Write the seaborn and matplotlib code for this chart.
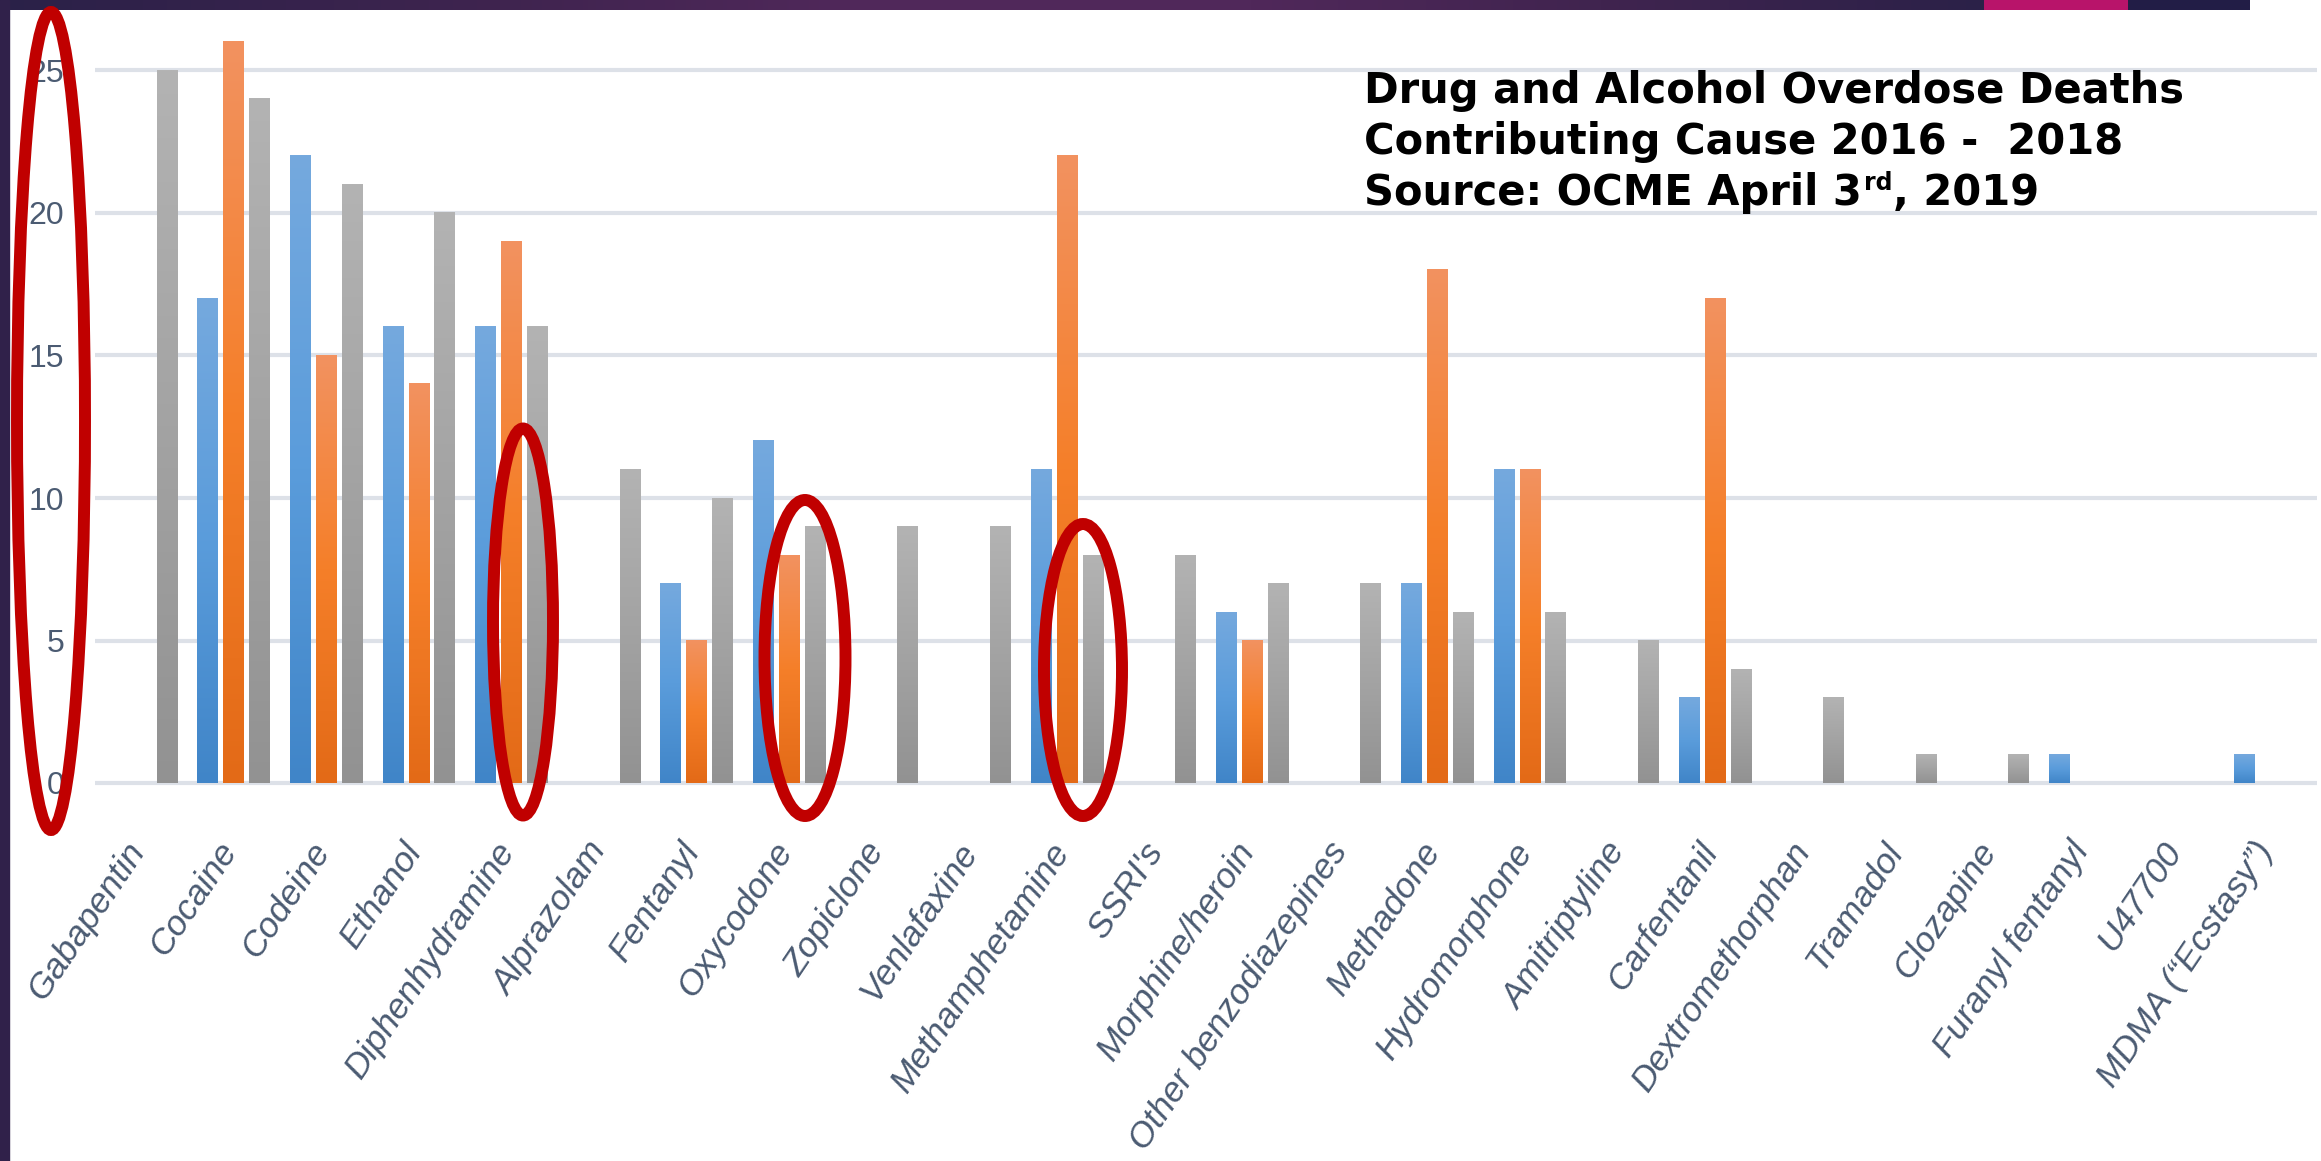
import numpy as np
import pandas as pd
import matplotlib
matplotlib.use("Agg")
import matplotlib.pyplot as plt
import matplotlib.transforms as mtransforms
from matplotlib.patches import Ellipse, Rectangle
from matplotlib.colors import LinearSegmentedColormap, to_rgb
from matplotlib import font_manager as fm
import seaborn as sns

# ---------------- data ----------------
categories = ["Gabapentin", "Cocaine", "Codeine", "Ethanol", "Diphenhydramine",
              "Alprazolam", "Fentanyl", "Oxycodone", "Zopiclone", "Venlafaxine",
              "Methamphetamine", "SSRI's", "Morphine/heroin", "Other benzodiazepines",
              "Methadone", "Hydromorphone", "Amitriptyline", "Carfentanil",
              "Dextromethorphan", "Tramadol", "Clozapine", "Furanyl fentanyl",
              "U47700", "MDMA (\u201cEcstasy\u201d)"]
deaths_2016 = [0, 17, 22, 16, 16, 0, 7, 12, 0, 0, 11, 0, 6, 0, 7, 11, 0, 3, 0, 0, 0, 1, 0, 1]
deaths_2017 = [0, 26, 15, 14, 19, 0, 5, 8, 0, 0, 22, 0, 5, 0, 18, 11, 0, 17, 0, 0, 0, 0, 0, 0]
deaths_2018 = [25, 24, 21, 20, 16, 11, 10, 9, 9, 9, 8, 8, 7, 7, 6, 6, 5, 4, 3, 1, 1, 0, 0, 0]
years = ["2016", "2017", "2018"]
y_ticks = [0, 5, 10, 15, 20, 25]
title_lines = ["Drug and Alcohol Overdose Deaths", "Contributing Cause 2016 -  2018"]
source_parts = ["Source: OCME April 3", "rd", ", 2019"]

df = pd.DataFrame({
    "drug": categories * 3,
    "year": np.repeat(years, len(categories)),
    "deaths": deaths_2016 + deaths_2017 + deaths_2018,
})

# ---------------- style ----------------
sns.set_style("white")


def has_font(name):
    try:
        fm.findfont(fm.FontProperties(family=name), fallback_to_default=False)
        return True
    except Exception:
        return False


narrow = "Liberation Sans Narrow" if has_font("Liberation Sans Narrow") else "Liberation Sans"
is_narrow = narrow == "Liberation Sans Narrow"
plt.rcParams["font.family"] = ["DejaVu Sans"]

W, H = 2321, 1161
fig = plt.figure(figsize=(W / 100, H / 100), dpi=100)
fig.patch.set_facecolor("white")
pix = mtransforms.Affine2D().scale(1 / W, -1 / H).translate(0, 1) + fig.transFigure

# axes geometry (pixels)
unit = 28.5
y0_px = 783
ymin, ymax = -0.15, 27.3
left_px, right_px = 95, 2317
bottom_px = y0_px - ymin * unit
top_px = y0_px - ymax * unit
ax = fig.add_axes([left_px / W, 1 - bottom_px / H, (right_px - left_px) / W,
                   (bottom_px - top_px) / H])

mid_cols = ["#5B9BD5", "#F27E2E", "#A5A5A5"]
grads = [
    LinearSegmentedColormap.from_list("b", ["#4085C8", "#5A9CDB", "#75A9DE"]),
    LinearSegmentedColormap.from_list("o", ["#E36A17", "#F57F29", "#F29260"]),
    LinearSegmentedColormap.from_list("g", ["#929292", "#A3A3A3", "#B3B3B3"]),
]

sns.barplot(data=df, x="drug", y="deaths", hue="year", order=categories,
            hue_order=years, palette=mid_cols, width=0.84, gap=0.19,
            saturation=1, errorbar=None, linewidth=0, legend=False, ax=ax)

# gradient fill on each bar
mid_rgb = [np.array(to_rgb(c)) for c in mid_cols]
grad_img = np.linspace(0, 1, 256).reshape(-1, 1)
for p in list(ax.patches):
    h = p.get_height()
    if not np.isfinite(h) or h <= 0:
        continue
    fc = np.array(p.get_facecolor()[:3])
    k = int(np.argmin([np.sum((fc - m) ** 2) for m in mid_rgb]))
    x0, w = p.get_x(), p.get_width()
    ax.imshow(grad_img, cmap=grads[k], extent=[x0, x0 + w, 0, h], origin="lower",
              aspect="auto", zorder=3, interpolation="bilinear")

ax.set_xlim(-0.5, len(categories) - 0.5)
ax.set_ylim(ymin, ymax)
ax.set_yticks(y_ticks)
ax.set_yticklabels([str(v) for v in y_ticks])
ax.yaxis.grid(True, color="#DDE1E8", linewidth=3)
ax.xaxis.grid(False)
ax.set_axisbelow(True)
for s in ax.spines.values():
    s.set_visible(False)
ax.set_xlabel("")
ax.set_ylabel("")

lab_col = "#4B5B72"
xfs = 30 if is_narrow else 25.5
yfs = 27 if is_narrow else 23
ax.set_xticks(range(len(categories)))
ax.set_xticklabels(categories, rotation=56, ha="right", va="center",
                   rotation_mode="anchor", fontstyle="italic", fontsize=xfs,
                   color=lab_col, family=[narrow, "DejaVu Sans"])
ax.tick_params(axis="x", length=0, pad=42)
off = mtransforms.ScaledTranslation(-4 / 100, 0, fig.dpi_scale_trans)
for lbl in ax.get_xticklabels():
    lbl.set_transform(lbl.get_transform() + off)
for lbl in ax.get_yticklabels():
    lbl.set_family([narrow, "DejaVu Sans"])
    lbl.set_fontsize(yfs)
    lbl.set_color(lab_col)
ax.tick_params(axis="y", length=0, pad=22)

# ---------------- decorations ----------------
# left strip
fig.patches.append(Rectangle((0, 0), 9, H, transform=pix, color="#30214A", zorder=10))
# top band gradient
band_ax = fig.add_axes([0, 1 - 10 / H, 1, 10 / H])
band_ax.set_axis_off()
xs = np.arange(W)
stops_x = [0, 500, 850, 1250, 1600, 1984]
stops_c = ["#2A2148", "#3F244F", "#50285A", "#50285A", "#40244F", "#2B2148"]
rgb = np.array([to_rgb(c) for c in stops_c])
row = np.ones((W, 3))
m = xs < 1984
for ch in range(3):
    row[m, ch] = np.interp(xs[m], stops_x, rgb[:, ch])
row[(xs >= 1984) & (xs < 2128)] = to_rgb("#B8146A")
row[(xs >= 2128) & (xs < 2250)] = to_rgb("#221D46")
band_ax.imshow(row[None, :, :], aspect="auto", extent=[0, 1, 0, 1], interpolation="nearest")

# red ellipses (annotation)
ellipses = [((51, 421), 68, 818), ((523, 622), 60, 387),
            ((805, 658), 81, 316), ((1083, 670), 78, 292)]
for (cx, cy), ew, eh in ellipses:
    fig.patches.append(Ellipse((cx, cy), ew, eh, transform=pix, fill=False,
                               edgecolor="#C00000", linewidth=8.6, zorder=20))

# title
tfont = dict(family=["DejaVu Sans"], fontweight="bold", color="black", fontsize=30)
tx = 1364
fig.text(tx, 103, title_lines[0], transform=pix, va="baseline", ha="left", **tfont)
fig.text(tx, 154, title_lines[1], transform=pix, va="baseline", ha="left", **tfont)
renderer = fig.canvas.get_renderer()
t1 = fig.text(tx, 205, source_parts[0], transform=pix, va="baseline", ha="left", **tfont)
e1 = t1.get_window_extent(renderer)
sup = dict(tfont)
sup["fontsize"] = 17
t2 = fig.text(e1.x1 + 2, 190, source_parts[1], transform=pix, va="baseline", ha="left", **sup)
e2 = t2.get_window_extent(renderer)
fig.text(e2.x1 + 1, 205, source_parts[2], transform=pix, va="baseline", ha="left", **tfont)

fig.savefig("out.png", dpi=100, facecolor="white")
